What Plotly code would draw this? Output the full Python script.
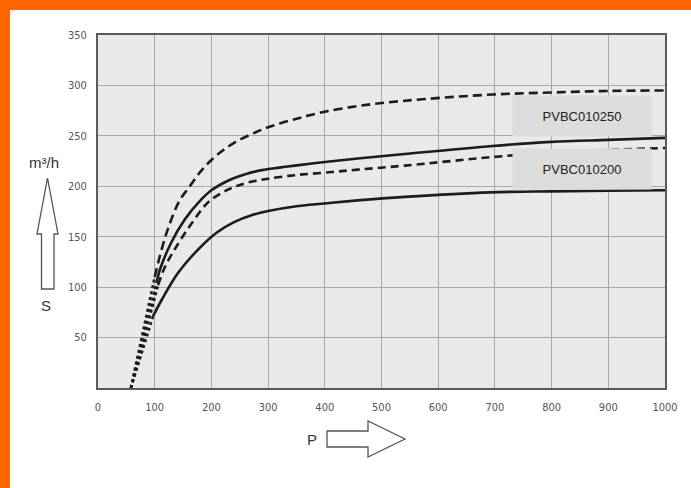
import plotly.graph_objects as go

# ---------------- data ----------------
x_ticks = [0, 100, 200, 300, 400, 500, 600, 700, 800, 900, 1000]
y_ticks = [50, 100, 150, 200, 250, 300, 350]

# upper dashed curve
pA = [100, 112, 126, 144, 162, 180, 200, 220, 243, 270, 300, 347, 400, 458, 500, 577, 696, 800, 900, 1000]
sA = [110, 137, 162, 186, 200, 214, 226, 235.5, 244, 251.5, 258.5, 266.5, 274, 279.5, 282.5, 286.5, 291, 293, 294.5, 295]
# upper solid curve
pB = [103, 109, 129, 153, 179, 200, 231, 260, 289, 320, 347, 400, 458, 541, 696, 800, 900, 1000]
sB = [104, 117, 144, 167, 185, 196, 206, 212, 216, 218.5, 220.5, 224, 227.5, 232, 240, 244, 246, 248]
# lower dashed curve
pC = [106, 118, 138, 165, 194, 220, 243, 270, 300, 347, 400, 458, 541, 696, 800, 900, 1000]
sC = [102, 120, 140, 163, 184, 194, 200, 204.5, 207.5, 211, 213.5, 216.5, 220.5, 229, 233.5, 236, 238]
# lower solid curve
pD = [97, 112, 141, 176, 209, 240, 272, 300, 347, 400, 458, 541, 691, 800, 900, 1000]
sD = [71, 87, 114, 137, 154, 164.5, 171.5, 175.5, 180, 183, 186, 189.5, 194, 195, 195.5, 196]
# dotted extrapolation, all starting at the same origin
p_origin = 58
s_origin = 0

labels = ["PVBC010250", "PVBC010200"]
label_p = [853, 853]
label_s = [269.5, 217]

# ---------------- layout helpers ----------------
W, H = 691, 488
L, R, T, B = 98, 26, 35, 100
PW, PH = W - L - R, H - T - B


def fx(px):
    return (px - L) / PW


def fy(py):
    return (H - B - py) / PH


def path(points):
    return "M " + " L ".join(f"{fx(a):.5f},{fy(b):.5f}" for a, b in points) + " Z"


fig = go.Figure()
ink = "#1c1c1c"

curves = [
    (pA, sA, "9px,5px"),
    (pB, sB, "solid"),
    (pC, sC, "8px,5px"),
    (pD, sD, "solid"),
]
for p, s, dash in curves:
    fig.add_trace(go.Scatter(x=[p_origin, p[0]], y=[s_origin, s[0]], mode="lines",
                             line=dict(color=ink, width=2.6, dash="dot"),
                             showlegend=False, hoverinfo="skip"))
    fig.add_trace(go.Scatter(x=p, y=s, mode="lines",
                             line=dict(color=ink, width=2.6, dash=dash, shape="spline", smoothing=1.0),
                             showlegend=False, hoverinfo="skip"))

axis_font = dict(family="Liberation Sans Narrow, DejaVu Sans Condensed, Liberation Sans, sans-serif",
                 size=11, color="#555555")

fig.update_xaxes(range=[0, 1000], tickvals=x_ticks, ticktext=[str(v) for v in x_ticks],
                 showgrid=True, gridcolor="#a8a8a8", gridwidth=1, zeroline=False,
                 showline=True, linecolor="#5a5a5a", linewidth=2, mirror=True,
                 tickfont=axis_font, ticks="", ticklabelstandoff=8)
fig.update_yaxes(range=[0, 350], tickvals=y_ticks, ticktext=[str(v) for v in y_ticks],
                 showgrid=True, gridcolor="#a8a8a8", gridwidth=1, zeroline=False,
                 showline=True, linecolor="#5a5a5a", linewidth=2, mirror=True,
                 tickfont=axis_font, ticks="", ticklabelstandoff=7)

for txt, xp, yp in zip(labels, label_p, label_s):
    fig.add_annotation(x=xp, y=yp, xref="x", yref="y", text=txt, showarrow=False,
                       xanchor="center", yanchor="middle",
                       font=dict(family="Liberation Sans, Arial, sans-serif", size=13, color="#222222"),
                       bgcolor="#dcdcdc", width=136, height=38, align="center")

shapes = [
    # orange frame (top and left)
    dict(type="rect", xref="paper", yref="paper", x0=fx(0), x1=fx(W), y0=fy(10), y1=fy(0),
         fillcolor="#ff6600", line=dict(width=0), layer="above"),
    dict(type="rect", xref="paper", yref="paper", x0=fx(0), x1=fx(10), y0=fy(H), y1=fy(0),
         fillcolor="#ff6600", line=dict(width=0), layer="above"),
    # up arrow (S axis)
    dict(type="path", xref="paper", yref="paper",
         path=path([(41.5, 289), (41.5, 234), (37, 234), (47.5, 178), (58, 234), (54, 234), (54, 289)]),
         line=dict(color="#555555", width=1.3), fillcolor="rgba(0,0,0,0)"),
    # right arrow (P axis)
    dict(type="path", xref="paper", yref="paper",
         path=path([(327, 431), (368, 431), (368, 421), (405, 439), (368, 457), (368, 447), (327, 447)]),
         line=dict(color="#555555", width=1.3), fillcolor="rgba(0,0,0,0)"),
]
fig.update_layout(shapes=shapes)

txt_font = dict(family="Liberation Sans, sans-serif", size=15, color="#333333")
for txt, px, py in [("m³/h", 44, 162), ("S", 46, 305), ("P", 312, 439)]:
    fig.add_annotation(x=fx(px), y=fy(py), xref="paper", yref="paper", text=txt,
                       showarrow=False, xanchor="center", yanchor="middle", font=txt_font)

fig.update_layout(width=W, height=H, margin=dict(l=L, r=R, t=T, b=B, pad=0),
                  paper_bgcolor="white", plot_bgcolor="#e9e9e9", showlegend=False)

fig.write_html("out.html", config={"displayModeBar": False},
               post_script="document.body.style.margin='0';")
